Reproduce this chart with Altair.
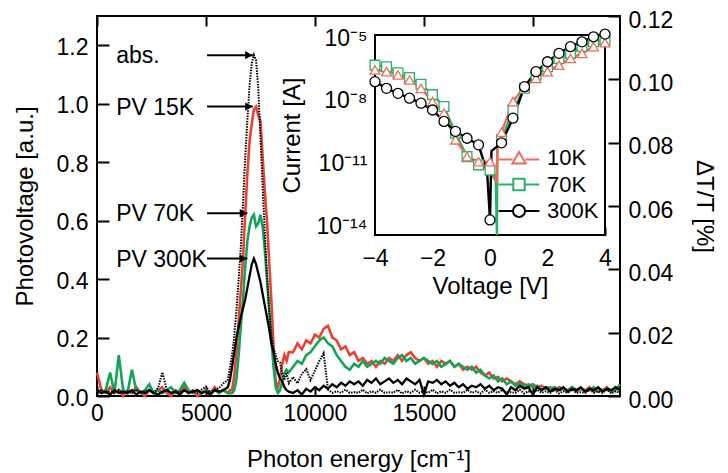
import altair as alt
import pandas as pd

# ---------------- main spectra (photon energy in cm^-1) ----------------
energy_a = list(range(0, 6000, 200))       # 30 points
energy_b = list(range(6000, 8900, 100))    # 29 points
energy_c = list(range(9000, 24001, 200))   # 76 points
energy = energy_a + energy_b + energy_c

pv15_a = [0.08, 0.02, 0.01, 0.03, 0.01, 0.02, 0.00, 0.02, 0.01, 0.03,
          0.01, 0.00, 0.02, 0.01, 0.02, 0.03, 0.01, 0.00, 0.02, 0.01,
          0.03, 0.01, 0.02, 0.00, 0.01, 0.02, 0.01, 0.03, 0.01, 0.02]
pv15_b = [0.01, 0.02, 0.02, 0.07, 0.15, 0.26, 0.36, 0.47, 0.62, 0.76,
          0.87, 0.93, 0.98, 0.99, 0.96, 0.94, 0.82, 0.70, 0.60, 0.46,
          0.33, 0.17, 0.05, 0.03, 0.06, 0.11, 0.14, 0.12, 0.15]
pv15_c = [0.15, 0.18, 0.16, 0.19, 0.18, 0.21, 0.20, 0.23, 0.24, 0.20,
          0.19, 0.16, 0.17, 0.14, 0.15, 0.12, 0.13, 0.11, 0.12, 0.10,
          0.12, 0.11, 0.13, 0.12, 0.14, 0.12, 0.14, 0.15, 0.13, 0.12,
          0.13, 0.11, 0.12, 0.10, 0.12, 0.11, 0.12, 0.10, 0.11, 0.09,
          0.10, 0.09, 0.10, 0.08, 0.07, 0.08, 0.06, 0.065, 0.05, 0.06,
          0.05, 0.04, 0.05, 0.04, 0.035, 0.04, 0.03, 0.035, 0.025, 0.03,
          0.02, 0.03, 0.025, 0.02, 0.03, 0.015, 0.025, 0.02, 0.03, 0.015,
          0.025, 0.02, 0.03, 0.015, 0.03, 0.02]

pv70_a = [0.02, 0.01, 0.02, 0.08, 0.01, 0.14, 0.02, 0.01, 0.09, 0.02,
          0.01, 0.02, 0.04, 0.01, 0.02, 0.01, 0.02, 0.03, 0.01, 0.02,
          0.045, 0.02, 0.01, 0.02, 0.01, 0.02, 0.01, 0.02, 0.01, 0.02]
pv70_b = [0.01, 0.01, 0.01, 0.02, 0.06, 0.14, 0.24, 0.33, 0.44, 0.53,
          0.58, 0.61, 0.62, 0.58, 0.59, 0.62, 0.58, 0.50, 0.40, 0.30,
          0.20, 0.10, 0.03, 0.01, 0.02, 0.05, 0.08, 0.09, 0.08]
pv70_c = [0.10, 0.12, 0.11, 0.14, 0.15, 0.17, 0.19, 0.20, 0.18, 0.17,
          0.14, 0.12, 0.10, 0.09, 0.11, 0.10, 0.12, 0.10, 0.11, 0.12,
          0.11, 0.13, 0.12, 0.11, 0.13, 0.14, 0.12, 0.13, 0.11, 0.12,
          0.13, 0.12, 0.11, 0.12, 0.10, 0.11, 0.12, 0.10, 0.11, 0.10,
          0.09, 0.10, 0.08, 0.09, 0.07, 0.06, 0.07, 0.05, 0.06, 0.04,
          0.05, 0.035, 0.045, 0.03, 0.04, 0.03, 0.035, 0.02, 0.03, 0.025,
          0.03, 0.02, 0.025, 0.015, 0.03, 0.02, 0.025, 0.015, 0.02, 0.03,
          0.015, 0.02, 0.025, 0.015, 0.02, 0.04]

pv300_a = [0.02, 0.01, 0.015, 0.005, 0.02, 0.01, 0.015, 0.01, 0.02, 0.005,
           0.015, 0.01, 0.02, 0.01, 0.005, 0.015, 0.02, 0.01, 0.015, 0.005,
           0.02, 0.01, 0.015, 0.02, 0.01, 0.015, 0.005, 0.02, 0.015, 0.02]
pv300_b = [0.03, 0.055, 0.10, 0.15, 0.20, 0.235, 0.27, 0.30, 0.33, 0.37,
           0.41, 0.45, 0.47, 0.45, 0.42, 0.39, 0.35, 0.31, 0.27, 0.23,
           0.18, 0.15, 0.11, 0.08, 0.06, 0.05, 0.03, 0.02, 0.015]
pv300_c = [0.01, 0.02, 0.005, 0.025, 0.015, 0.03, 0.02, 0.035, 0.025, 0.04,
           0.03, 0.045, 0.035, 0.05, 0.04, 0.05, 0.035, 0.055, 0.045, 0.06,
           0.04, 0.05, 0.06, 0.045, 0.055, 0.04, 0.06, 0.05, 0.04, 0.055,
           0.005, 0.05, 0.045, 0.055, 0.04, 0.05, 0.035, 0.045, 0.03, 0.04,
           0.025, 0.035, 0.03, 0.04, 0.025, 0.035, 0.02, 0.03, 0.025, 0.005,
           0.03, 0.02, 0.035, 0.025, 0.03, 0.005, 0.03, 0.02, 0.03, 0.015,
           0.025, 0.02, 0.03, 0.015, 0.025, 0.02, 0.03, 0.015, 0.025, 0.02,
           0.03, 0.015, 0.025, 0.02, 0.03, 0.02]

# absorption dT/T in % (right axis)
abs_a = [0.001, 0.002, 0.001, 0.0015, 0.001, 0.002, 0.001, 0.0015, 0.001, 0.002,
         0.001, 0.0015, 0.002, 0.001, 0.0025, 0.0075, 0.002, 0.001, 0.0015, 0.001,
         0.002, 0.001, 0.0015, 0.001, 0.002, 0.003, 0.001, 0.002, 0.0025, 0.004]
abs_b = [0.005, 0.009, 0.013, 0.019, 0.027, 0.037, 0.047, 0.061, 0.075, 0.087,
         0.098, 0.105, 0.1077, 0.106, 0.097, 0.082, 0.066, 0.052, 0.038, 0.027,
         0.019, 0.015, 0.013, 0.011, 0.0105, 0.007, 0.005, 0.0075, 0.004]
abs_c = [0.006, 0.004, 0.007, 0.0085, 0.005, 0.008, 0.011, 0.0135, 0.002, 0.001,
         0.0015, 0.001, 0.002, 0.001, 0.0012, 0.001, 0.002, 0.0008, 0.0015, 0.001,
         0.002, 0.001, 0.0012, 0.001, 0.002, 0.0008, 0.0015, 0.001, 0.002, 0.001,
         0.0015, 0.001, 0.002, 0.0008, 0.0015, 0.001, 0.002, 0.001, 0.0012, 0.001,
         0.002, 0.001, 0.0015, 0.0008, 0.002, 0.001, 0.0015, 0.001, 0.002, 0.001,
         0.0012, 0.001, 0.002, 0.0008, 0.0015, 0.001, 0.002, 0.001, 0.0015, 0.001,
         0.002, 0.0008, 0.0015, 0.001, 0.002, 0.001, 0.0012, 0.001, 0.002, 0.001,
         0.0015, 0.001, 0.002, 0.0008, 0.0015, 0.001]

pv15 = pv15_a + pv15_b + pv15_c
pv70 = pv70_a + pv70_b + pv70_c
pv300 = pv300_a + pv300_b + pv300_c
absorb = abs_a + abs_b + abs_c

# annotations (arrow level on the photovoltage axis)
ann_labels = ["abs.", "PV 15K", "PV 70K", "PV 300K"]
ann_level = [1.166, 0.99, 0.625, 0.47]
ann_text_e = [880, 880, 880, 880]
ann_from = [5050, 5050, 5050, 5050]
ann_to = [7150, 7150, 6900, 6900]

# ---------------- inset I-V curves ----------------
volt = [-4.0, -3.6, -3.2, -2.8, -2.4, -2.0, -1.6, -1.2, -0.8, -0.4, 0.0,
        0.4, 0.8, 1.2, 1.6, 2.0, 2.4, 2.8, 3.2, 3.6, 4.0]
cur_10k = [3.0e-7, 2.5e-7, 1.74e-7, 1.0e-7, 4.0e-8, 9.3e-9, 2.6e-9, 1.4e-10, 2.2e-11, 1.26e-11, 1.26e-11,
           3.2e-10, 9.3e-9, 4.8e-8, 1.2e-7, 2.5e-7, 5.1e-7, 1.07e-6, 1.86e-6, 3.9e-6, 6.0e-6]
cur_70k = [5.1e-7, 4.3e-7, 2.2e-7, 1.3e-7, 6.3e-8, 2.0e-8, 5.4e-9, 2.9e-10, 2.2e-11, 8.9e-12, 5.0e-12,
           1.4e-10, 3.7e-9, 4.0e-8, 1.74e-7, 4.3e-7, 1.07e-6, 1.86e-6, 3.9e-6, 6.6e-6, 7.9e-6]
cur_300k = [8.3e-8, 4.0e-8, 2.3e-8, 1.35e-8, 7.8e-9, 3.7e-9, 1.05e-9, 3.5e-10, 1.66e-10, 8.0e-11, 2.1e-14,
            1.0e-10, 1.5e-9, 4.8e-8, 2.5e-7, 7.4e-7, 1.86e-6, 3.9e-6, 6.6e-6, 1.15e-5, 1.55e-5]
# extra line-only points near zero bias
volt_10k_x = [0.2, 0.24, 0.26]
cur_10k_x = [2.0e-12, 1.2e-12, 2.0e-10]
volt_70k_x = [0.2, 0.24, 0.26]
cur_70k_x = [1.5e-12, 4.0e-15, 1.4e-10]
volt_300k_x = [-0.1, 0.05]
cur_300k_x = [4.0e-12, 4.0e-11]

legend_labels = ["10K", "70K", "300K"]

# ---------------- styling ----------------
FONT = "Liberation Sans"
FS_LAB = 23
FS_TIT = 24
W, H = 523, 380
RED = "#ee3f33"
GREEN = "#12a559"
I_RED = "#f26a5c"
I_GREEN = "#27b26a"

E_DOM = [0, 24000]
PV_DOM = [0, 1.3]
ABS_DOM = [0, 0.12]
V_DOM = [-4, 4]
I_DOM = [4e-15, 1.4e-5]
V_RANGE = [278, 508]
I_RANGE = [219, 19]


def xe(field, axis=None):
    return alt.X(field, type="quantitative", axis=axis,
                 scale=alt.Scale(domain=E_DOM, nice=False, zero=False))


def ypv(field, axis=None):
    return alt.Y(field, type="quantitative", axis=axis,
                 scale=alt.Scale(domain=PV_DOM, nice=False, zero=False))


def yab(field, axis=None):
    return alt.Y(field, type="quantitative", axis=axis,
                 scale=alt.Scale(domain=ABS_DOM, nice=False, zero=False))


def xv(field, axis=None):
    return alt.X(field, type="quantitative", axis=axis,
                 scale=alt.Scale(domain=V_DOM, range=V_RANGE, nice=False, zero=False))


def yi(field, axis=None):
    return alt.Y(field, type="quantitative", axis=axis,
                 scale=alt.Scale(type="log", domain=I_DOM, range=I_RANGE, nice=False))


main_df = pd.DataFrame({"E": energy, "pv15": pv15, "pv70": pv70, "pv300": pv300, "abs": absorb})

ax_bottom = alt.Axis(orient="bottom", values=[0, 5000, 10000, 15000, 20000], format="d",
                     offset=-10, tickSize=10, labelPadding=6,
                     title="Photon energy [cm⁻¹]", titlePadding=22)
ax_left = alt.Axis(orient="left", values=[0, 0.2, 0.4, 0.6, 0.8, 1.0, 1.2], format=".1f",
                   offset=-12, tickSize=12, labelPadding=9, labelOffset=2,
                   title="Photovoltage [a.u.]", titlePadding=19)
ax_top = alt.Axis(orient="top", values=[0, 5000, 10000, 15000, 20000], labels=False,
                  offset=-10, tickSize=10, title=None)
ax_right = alt.Axis(orient="right", values=[0, 0.02, 0.04, 0.06, 0.08, 0.1, 0.12], format=".2f",
                    offset=-12, tickSize=12, labelPadding=8, labelOffset=4,
                    title="ΔT/T [%]", titlePadding=19)

red = alt.Chart(main_df).mark_line(color=RED, strokeWidth=2.6).encode(
    x=xe("E", ax_bottom), y=ypv("pv15", ax_left))
green = alt.Chart(main_df).mark_line(color=GREEN, strokeWidth=2.6).encode(
    x=xe("E"), y=ypv("pv70"))
black = alt.Chart(main_df).mark_line(color="black", strokeWidth=2.3).encode(
    x=xe("E"), y=ypv("pv300"))
absl = alt.Chart(main_df).mark_line(color="black", strokeWidth=2, strokeDash=[1.5, 1.2]).encode(
    x=xe("E", ax_top), y=yab("abs", ax_right))

ann_df = pd.DataFrame({"label": ann_labels, "level": ann_level, "te": ann_text_e,
                       "a0": ann_from, "a1": ann_to})
ann_text = alt.Chart(ann_df).mark_text(align="left", baseline="middle", font=FONT,
                                       fontSize=FS_LAB, color="black", dy=1).encode(
    x=xe("te"), y=ypv("level"), text="label:N")
ann_rule = alt.Chart(ann_df).mark_rule(color="black", strokeWidth=2).encode(
    x=xe("a0"), x2="a1", y=ypv("level"))
ann_head = alt.Chart(ann_df).mark_point(shape="triangle-right", filled=True, color="black",
                                        size=70, xOffset=-4, opacity=1).encode(
    x=xe("a1"), y=ypv("level"))

# ---------------- inset ----------------
frame_df = pd.DataFrame({"v0": [V_DOM[0]], "v1": [V_DOM[1]], "i0": [I_DOM[0]], "i1": [I_DOM[1]]})
frame = alt.Chart(frame_df).mark_rect(fill="white", stroke="black", strokeWidth=2).encode(
    x=xv("v0"), x2="v1", y=yi("i0"), y2="i1")

d10 = pd.DataFrame({"V": volt + volt_10k_x, "I": cur_10k + cur_10k_x})
d70 = pd.DataFrame({"V": volt + volt_70k_x, "I": cur_70k + cur_70k_x})
d300 = pd.DataFrame({"V": volt + volt_300k_x, "I": cur_300k + cur_300k_x})
m10 = pd.DataFrame({"V": volt, "I": cur_10k})
m70 = pd.DataFrame({"V": volt, "I": cur_70k})
m300 = pd.DataFrame({"V": volt, "I": cur_300k})

TS = 8
decades = [1e-5, 1e-6, 1e-7, 1e-8, 1e-9, 1e-10, 1e-11, 1e-12, 1e-13, 1e-14]
ax_iv_bottom = alt.Axis(orient="bottom", values=[-4, -2, 0, 2, 4], format="d",
                        offset=(I_RANGE[0] - TS) - H, tickSize=TS, labelPadding=12,
                        title="Voltage [V]", titlePadding=4)
ax_iv_left = alt.Axis(orient="left", values=decades,
                      labelExpr=("round(log(datum.value)/LN10) == -5 ? '10⁻⁵' : "
                                 "round(log(datum.value)/LN10) == -8 ? '10⁻⁸' : "
                                 "round(log(datum.value)/LN10) == -11 ? '10⁻¹¹' : "
                                 "round(log(datum.value)/LN10) == -14 ? '10⁻¹⁴' : ''"),
                      offset=-(V_RANGE[0] + TS), tickSize=TS, labelPadding=8,
                      title="Current [A]", titlePadding=11)
ax_iv_right = alt.Axis(orient="right", values=decades,
                       labels=False, offset=(V_RANGE[1] - TS) - W, tickSize=TS, title=None)

l70 = alt.Chart(d70).mark_line(color=I_GREEN, strokeWidth=2.4).encode(x=xv("V"), y=yi("I"))
l10 = alt.Chart(d10).mark_line(color=I_RED, strokeWidth=2.4).encode(x=xv("V"), y=yi("I"))
l300 = alt.Chart(d300).mark_line(color="black", strokeWidth=2.4).encode(
    x=xv("V", ax_iv_bottom), y=yi("I", ax_iv_left))
p70 = alt.Chart(m70).mark_point(shape="square", filled=True, fill="white", stroke=I_GREEN,
                                strokeWidth=1.3, size=95, opacity=1).encode(x=xv("V"), y=yi("I"))
p10 = alt.Chart(m10).mark_point(shape="triangle-up", filled=True, fill="white", stroke=I_RED,
                                strokeWidth=1.3, size=95, opacity=1).encode(x=xv("V"), y=yi("I"))
p300 = alt.Chart(m300).mark_point(shape="circle", filled=True, fill="white", stroke="black",
                                  strokeWidth=1.3, size=100, opacity=1).encode(
    x=xv("V"), y=yi("I", ax_iv_right))

sym_paths = [
    "M-3.4,0.25H-1.05M1.05,0.25H3.4M0,-1L1.1,0.9H-1.1Z",
    "M-3.4,0H-0.95M0.95,0H3.4M-0.95,-0.95H0.95V0.95H-0.95Z",
    "M-3.4,0H-1M1,0H3.4M-1,0A1,1,0,1,1,1,0A1,1,0,1,1,-1,0Z",
]
leg = alt.Legend(orient="none", legendX=411, legendY=131, title=None, padding=0,
                 symbolSize=144, symbolStrokeWidth=2, labelOffset=17, rowPadding=4.5,
                 labelFont=FONT, labelFontSize=22, labelColor="black")
leg_df = pd.DataFrame({"series": legend_labels})
legend_layer = alt.Chart(leg_df).transform_filter("false").mark_point(
    filled=False, strokeWidth=2, opacity=1).encode(
    color=alt.Color("series:N", scale=alt.Scale(domain=legend_labels,
                                                range=[I_RED, I_GREEN, "black"]), legend=leg),
    shape=alt.Shape("series:N", scale=alt.Scale(domain=legend_labels, range=sym_paths), legend=leg),
)

chart = alt.layer(
    red, green, black, absl, ann_rule, ann_head, ann_text,
    frame, l70, l10, l300, p70, p10, p300, legend_layer,
).resolve_scale(
    x="independent", y="independent"
).properties(
    width=W, height=H,
    autosize=alt.AutoSizeParams(type="none"),
    padding={"left": 89, "top": 8, "right": 100, "bottom": 76},
).configure_view(
    stroke="black", strokeWidth=2
).configure_axis(
    labelFont=FONT, titleFont=FONT, labelFontSize=FS_LAB, titleFontSize=FS_TIT,
    titleFontWeight="normal", labelColor="black", titleColor="black",
    tickColor="black", tickWidth=2, domain=False, grid=False,
    labelFlush=False, labelOverlap=False, zindex=1,
)

chart.save("out.html", embed_options={"renderer": "svg", "actions": False})
